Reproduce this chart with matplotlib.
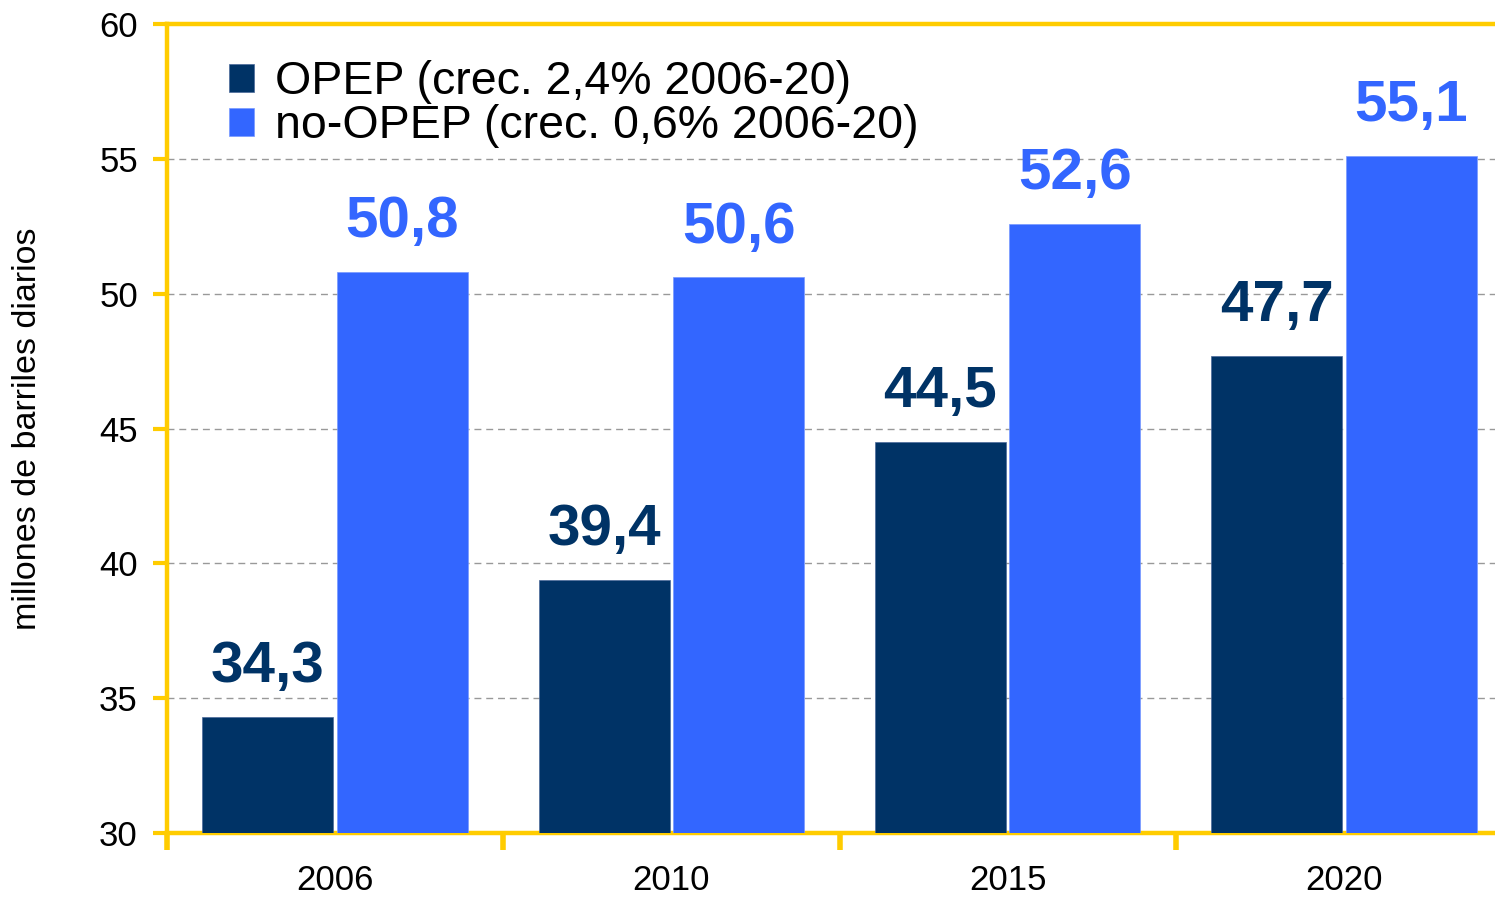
import matplotlib.pyplot as plt
import numpy as np

plt.rcParams['font.family'] = ['Liberation Sans', 'DejaVu Sans']

# Data
years = ["2006", "2010", "2015", "2020"]
opep = [34.3, 39.4, 44.5, 47.7]
no_opep = [50.8, 50.6, 52.6, 55.1]
opep_label = "OPEP (crec. 2,4% 2006-20)"
no_opep_label = "no-OPEP (crec. 0,6% 2006-20)"

dark_blue = "#003366"
light_blue = "#3366FF"
yellow = "#FFCC00"

fig = plt.figure(figsize=(14.95, 8.99), dpi=100)
# right edge of the plot runs past the picture edge, like in the original
ax = fig.add_axes([167 / 1495, 66 / 899, 1345 / 1495, 809 / 899])

x = np.arange(len(years))
width = 0.39
ax.bar(x - 0.2, opep, width, color=dark_blue, edgecolor="#4a6a9a", linewidth=0.5, label=opep_label, zorder=3)
ax.bar(x + 0.2, no_opep, width, color=light_blue, edgecolor="#7799ff", linewidth=0.5, label=no_opep_label, zorder=3)

# value labels above the bars
for xi, v in zip(x, opep):
    ax.annotate(f"{v:.1f}".replace(".", ","), (xi - 0.2, v), xytext=(0, 25), textcoords="offset points",
                ha="center", va="baseline", fontsize=42, fontweight="bold", color=dark_blue)
for xi, v in zip(x, no_opep):
    ax.annotate(f"{v:.1f}".replace(".", ","), (xi + 0.2, v), xytext=(0, 25), textcoords="offset points",
                ha="center", va="baseline", fontsize=42, fontweight="bold", color=light_blue)

ax.set_ylim(30, 60)
ax.set_xlim(-0.5, 3.5)
ax.set_yticks(range(30, 61, 5))
ax.tick_params(axis="y", labelsize=25, length=10, width=3, color=yellow, pad=11)

# year labels centred under groups, ticks between groups
ax.set_xticks(x)
ax.set_xticklabels(years, fontsize=25)
ax.tick_params(axis="x", length=0, pad=22)
ax.set_xticks(np.arange(-0.5, 3.5, 1.0), minor=True)
ax.tick_params(axis="x", which="minor", length=12, width=4, color=yellow)

ax.grid(axis="y", color="#999999", linestyle=(0, (5, 3.5)), linewidth=1, zorder=0)

for side in ["left", "bottom", "top"]:
    ax.spines[side].set_color(yellow)
    ax.spines[side].set_linewidth(3.2)
ax.spines["right"].set_visible(False)

ax.set_ylabel("millones de barriles diarios", fontsize=24.5)
ax.yaxis.set_label_coords(-0.092, 0.5)

ax.legend(loc="upper left", bbox_to_anchor=(0.032, 0.978), frameon=False, fontsize=33.5,
          handlelength=0.54, handleheight=0.54, handletextpad=0.45, labelspacing=0.0, borderaxespad=0)

fig.savefig("out.png", dpi=100)
